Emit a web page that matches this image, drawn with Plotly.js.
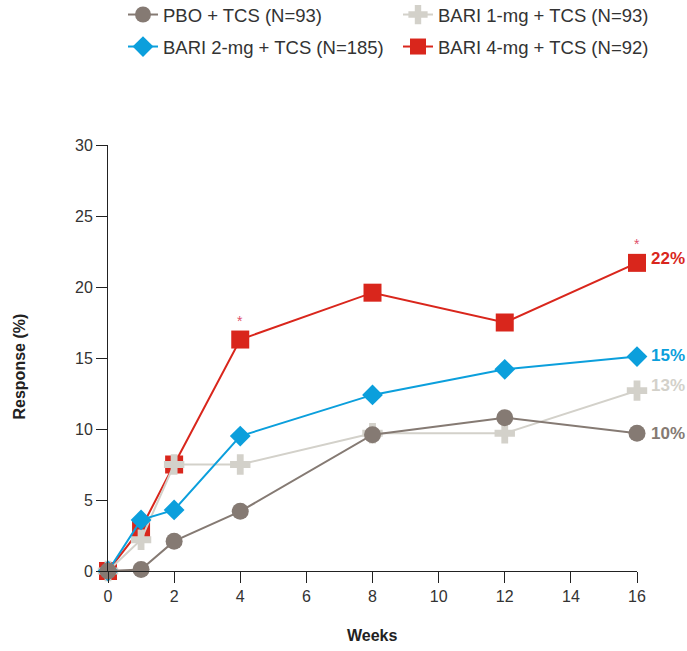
<!DOCTYPE html>
<html>
<head>
<meta charset="utf-8">
<script src="https://cdn.plot.ly/plotly-3.0.1.min.js"></script>
<style>html,body{margin:0;padding:0;background:#fff;}#chart{width:687px;height:651px;}</style>
</head>
<body>
<div id="chart"></div>
<script>
var weeks = [0, 1, 2, 4, 8, 12, 16];
var seriesNames = ["PBO + TCS (N=93)", "BARI 1-mg + TCS (N=93)", "BARI 2-mg + TCS (N=185)", "BARI 4-mg + TCS (N=92)"];
var pbo   = [0, 0.1, 2.1, 4.2, 9.6, 10.8, 9.7];
var bari1 = [0, 2.2, 7.5, 7.5, 9.7, 9.7, 12.7];
var bari2 = [0, 3.6, 4.3, 9.5, 12.4, 14.2, 15.1];
var bari4 = [0, 3.0, 7.5, 16.3, 19.6, 17.5, 21.7];
var endLabels = ["10%", "13%", "15%", "22%"];
var starWeeks = [4, 16];
var yTicks = [0, 5, 10, 15, 20, 25, 30];
var xTicks = [0, 2, 4, 6, 8, 10, 12, 14, 16];
var xTitle = "Weeks";
var yTitle = "Response (%)";

var FONT = "Liberation Sans, Arial, sans-serif";
var colors = ["#857a73", "#d3d1ca", "#0b9fdc", "#d9261c"];
var symbols = ["circle", "cross", "diamond", "square"];
var sizes = [17, 17, 16, 18];
var endShift = [0, 5, 1, 4];
var legendIds = ["legend", "legend2", "legend3", "legend4"];
var legendPos = [[123, 15], [398, 15], [123, 47], [398, 47]];
var data = [pbo, bari1, bari2, bari4];
var drawOrder = [3, 1, 2, 0];

var traces = drawOrder.map(function (i) {
  return {
    x: weeks, y: data[i], name: seriesNames[i], type: "scatter", mode: "lines+markers",
    legend: legendIds[i],
    line: { color: colors[i], width: 2 },
    marker: { color: colors[i], symbol: symbols[i], size: sizes[i], line: { width: 0 } },
    cliponaxis: false
  };
});

var annotations = [];
data.forEach(function (ys, i) {
  annotations.push({
    x: 16, y: ys[ys.length - 1], xref: "x", yref: "y", text: "<b>" + endLabels[i] + "</b>",
    showarrow: false, xanchor: "left", xshift: 12, yshift: endShift[i],
    font: { family: FONT, size: 17, color: colors[i] }
  });
});
starWeeks.forEach(function (w) {
  var idx = weeks.indexOf(w);
  annotations.push({
    x: w, y: bari4[idx], xref: "x", yref: "y", text: "*", showarrow: false,
    yshift: 19, font: { family: FONT, size: 14, color: "#e0506a" }
  });
});
annotations.push({
  xref: "paper", yref: "paper", x: 0.5, y: 0, yshift: -64, xanchor: "center", yanchor: "middle",
  text: "<b>" + xTitle + "</b>", showarrow: false, font: { family: FONT, size: 16, color: "#222" }
});
annotations.push({
  xref: "paper", yref: "paper", x: 0, xshift: -88, y: 0.48, xanchor: "center", yanchor: "middle",
  textangle: -90, text: "<b>" + yTitle + "</b>", showarrow: false,
  font: { family: FONT, size: 16, color: "#222" }
});

var layout = {
  width: 687, height: 651,
  margin: { l: 108, r: 50, t: 145, b: 80, autoexpand: false },
  paper_bgcolor: "#fff", plot_bgcolor: "#fff",
  font: { family: FONT, size: 16, color: "#333" },
  showlegend: true,
  xaxis: {
    range: [0, 16], tickvals: xTicks, ticktext: xTicks.map(String),
    showgrid: false, zeroline: false, showline: true, linecolor: "#222", linewidth: 1,
    ticks: "outside", ticklen: 11, tickcolor: "#222",
    tickfont: { size: 16, color: "#333" }
  },
  yaxis: {
    range: [0, 30], tickvals: yTicks, ticktext: yTicks.map(String),
    showgrid: false, zeroline: false, showline: true, linecolor: "#222", linewidth: 1,
    ticks: "outside", ticklen: 11, tickcolor: "#222",
    tickfont: { size: 16, color: "#333" }
  },
  annotations: annotations
};
legendIds.forEach(function (id, i) {
  layout[id] = {
    xref: "container", yref: "container",
    x: legendPos[i][0] / 687, y: 1 - legendPos[i][1] / 651,
    xanchor: "left", yanchor: "middle", orientation: "v",
    bgcolor: "rgba(0,0,0,0)", borderwidth: 0,
    font: { family: FONT, size: 18.5, color: "#333" }
  };
});

Plotly.newPlot("chart", traces, layout, { displayModeBar: false, staticPlot: true });
</script>
</body>
</html>
